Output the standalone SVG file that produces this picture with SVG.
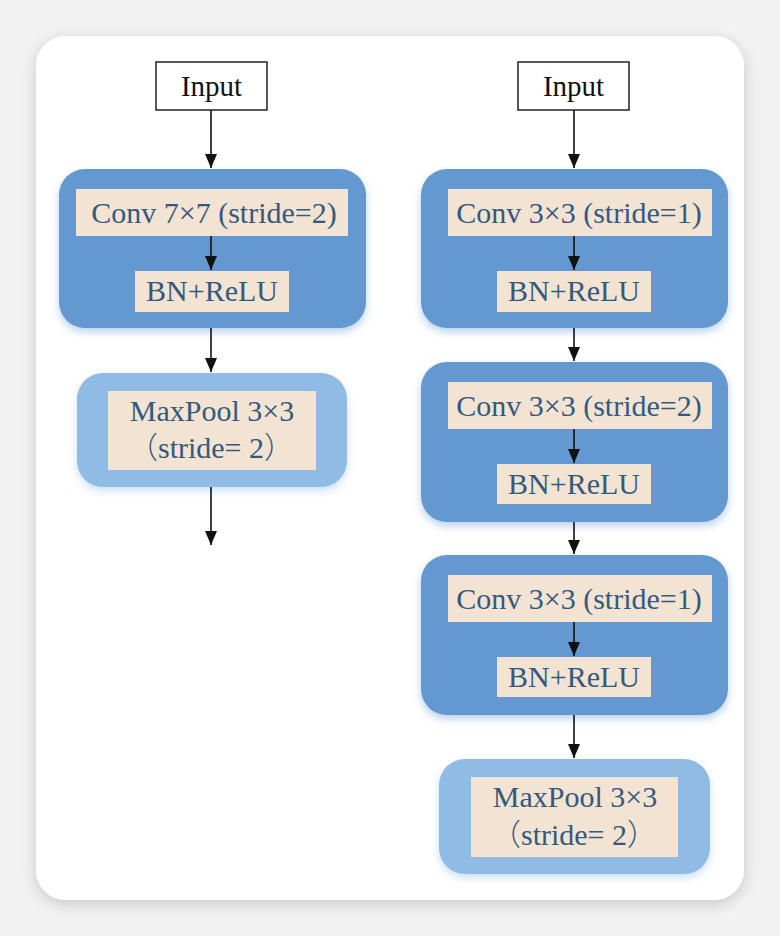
<svg xmlns="http://www.w3.org/2000/svg" width="780" height="936" viewBox="0 0 780 936">
<defs>
<filter id="cardShadow" x="-10%" y="-10%" width="120%" height="120%">
<feGaussianBlur in="SourceAlpha" stdDeviation="8"/>
<feOffset dx="0" dy="4"/>
<feComponentTransfer><feFuncA type="linear" slope="0.18"/></feComponentTransfer>
<feMerge><feMergeNode/><feMergeNode in="SourceGraphic"/></feMerge>
</filter>
<filter id="glow" x="-10%" y="-10%" width="120%" height="130%">
<feGaussianBlur in="SourceGraphic" stdDeviation="4"/>
<feOffset dx="0" dy="4" result="b"/>
<feComponentTransfer in="b" result="c"><feFuncA type="linear" slope="0.45"/></feComponentTransfer>
<feMerge><feMergeNode in="c"/><feMergeNode in="SourceGraphic"/></feMerge>
</filter>
<marker id="arr" viewBox="0 0 14 12" refX="14" refY="6" markerWidth="14" markerHeight="12" markerUnits="userSpaceOnUse" orient="auto">
<path d="M0,0 L14,6 L0,12 Z" fill="#111"/>
</marker>
</defs>
<style>
.blk{fill:#6399d0;}
.pool{fill:#8fbbe4;}
.lab{fill:#f3e3d3;}
.inp{fill:#fff;stroke:#222;stroke-width:1.5;}
.t{font-family:"Liberation Serif","Noto Sans CJK SC",serif;font-size:30px;fill:#35597e;text-anchor:middle;}
.cjk{font-family:"Noto Sans CJK SC",sans-serif;font-weight:300;}
.ti{font-family:"Liberation Serif",serif;font-size:29px;fill:#111;text-anchor:middle;}
.c{stroke:#111;stroke-width:1.6;fill:none;marker-end:url(#arr);}
</style>
<rect x="0" y="0" width="780" height="936" fill="#f2f2f2"/>
<rect x="36" y="36" width="708" height="864" rx="30" fill="#fff" filter="url(#cardShadow)"/>

<g id="input-left">
<rect class="inp" x="156" y="62" width="111" height="48"/>
<text class="ti" x="211.5" y="96">Input</text>
</g>
<g id="block-left-conv">
<rect class="blk" x="59" y="169" width="307" height="159" rx="26" filter="url(#glow)"/>
<rect class="lab" x="76" y="189" width="272" height="47"/>
<text class="t" x="214" y="223">Conv 7×7 (stride=2)</text>
<rect class="lab" x="135" y="271" width="154" height="41"/>
<text class="t" x="212" y="301">BN+ReLU</text>
</g>
<g id="pool-left">
<rect class="pool" x="77" y="373" width="270" height="114" rx="26" filter="url(#glow)"/>
<rect class="lab" x="108" y="391" width="208" height="79"/>
<text class="t" x="212" y="421">MaxPool 3×3</text>
<text class="t" x="211" y="458"><tspan class="cjk">（</tspan>stride= 2<tspan class="cjk">）</tspan></text>
</g>

<g id="input-right">
<rect class="inp" x="518" y="62" width="111" height="48"/>
<text class="ti" x="573.5" y="96">Input</text>
</g>
<g id="block-right-1">
<rect class="blk" x="421" y="169" width="307" height="159" rx="26" filter="url(#glow)"/>
<rect class="lab" x="448" y="189" width="264" height="47"/>
<text class="t" x="579" y="223">Conv 3×3 (stride=1)</text>
<rect class="lab" x="497" y="271" width="154" height="41"/>
<text class="t" x="574" y="301">BN+ReLU</text>
</g>
<g id="block-right-2">
<rect class="blk" x="421" y="362" width="307" height="160" rx="26" filter="url(#glow)"/>
<rect class="lab" x="448" y="382" width="264" height="47"/>
<text class="t" x="579" y="416">Conv 3×3 (stride=2)</text>
<rect class="lab" x="497" y="464" width="154" height="40"/>
<text class="t" x="574" y="494">BN+ReLU</text>
</g>
<g id="block-right-3">
<rect class="blk" x="421" y="555" width="307" height="160" rx="26" filter="url(#glow)"/>
<rect class="lab" x="448" y="575" width="264" height="47"/>
<text class="t" x="579" y="609">Conv 3×3 (stride=1)</text>
<rect class="lab" x="497" y="657" width="154" height="40"/>
<text class="t" x="574" y="687">BN+ReLU</text>
</g>
<g id="pool-right">
<rect class="pool" x="439" y="759" width="271" height="115" rx="26" filter="url(#glow)"/>
<rect class="lab" x="471" y="777" width="207" height="80"/>
<text class="t" x="575" y="807">MaxPool 3×3</text>
<text class="t" x="574" y="845"><tspan class="cjk">（</tspan>stride= 2<tspan class="cjk">）</tspan></text>
</g>

<g id="connectors">
<line class="c" x1="211" y1="110" x2="211" y2="168"/>
<line class="c" x1="211" y1="236" x2="211" y2="270"/>
<line class="c" x1="211" y1="328" x2="211" y2="372"/>
<line class="c" x1="211" y1="487" x2="211" y2="545"/>
<line class="c" x1="574" y1="110" x2="574" y2="168"/>
<line class="c" x1="574" y1="236" x2="574" y2="270"/>
<line class="c" x1="574" y1="328" x2="574" y2="361"/>
<line class="c" x1="574" y1="429" x2="574" y2="463"/>
<line class="c" x1="574" y1="522" x2="574" y2="554"/>
<line class="c" x1="574" y1="622" x2="574" y2="656"/>
<line class="c" x1="574" y1="715" x2="574" y2="758"/>
</g>
</svg>
